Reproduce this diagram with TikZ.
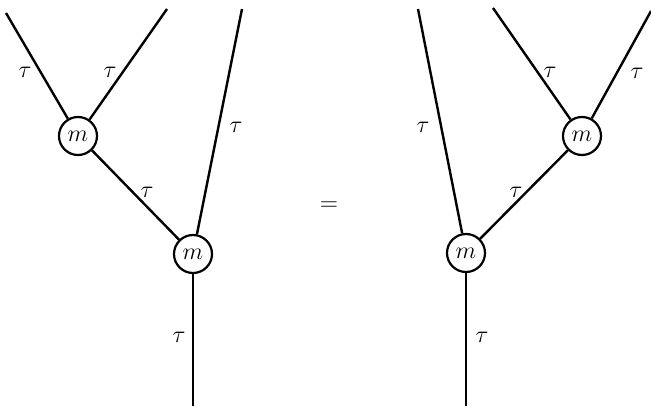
\documentclass[tikz,border=0pt]{standalone}
\usepackage{amsmath, amssymb}

\tikzset{
  mult/.style={draw, circle, line width=1.1pt, minimum size=19pt, inner sep=0pt, fill=white, font=\large},
  lbl/.style={font=\large, inner sep=0pt},
  leg/.style={line width=1.2pt}
}

\begin{document}
\begin{tikzpicture}[x=0.5pt, y=-0.5pt]
  \useasboundingbox (0,0) rectangle (651,406);
  % left side: (tau tau) tau
  \coordinate (a1) at (6,13);
  \coordinate (a2) at (167,9);
  \coordinate (a3) at (242,9);
  \coordinate (a4) at (193,406);
  \node[mult] (m1) at (78,136) {$m$};
  \node[mult] (m2) at (193,254) {$m$};
  \draw[leg] (a1) -- (m1);
  \draw[leg] (a2) -- (m1);
  \draw[leg] (m1) -- (m2);
  \draw[leg] (a3) -- (m2);
  \draw[leg] (m2) -- (a4);
  \node[lbl] (t1) at (25,72) {$\tau$};
  \node[lbl] (t2) at (110,72) {$\tau$};
  \node[lbl] (t3) at (236,127) {$\tau$};
  \node[lbl] (t4) at (147,192) {$\tau$};
  \node[lbl] (t5) at (179,337) {$\tau$};

  \node[font=\large] (eq) at (329,206) {$=$};

  % right side: tau (tau tau)
  \coordinate (b1) at (418,9);
  \coordinate (b2) at (493,8);
  \coordinate (b3) at (651,11);
  \coordinate (b4) at (466,406);
  \node[mult] (m3) at (466,253) {$m$};
  \node[mult] (m4) at (582,136) {$m$};
  \draw[leg] (b1) -- (m3);
  \draw[leg] (b2) -- (m4);
  \draw[leg] (b3) -- (m4);
  \draw[leg] (m4) -- (m3);
  \draw[leg] (m3) -- (b4);
  \node[lbl] (s1) at (423,127) {$\tau$};
  \node[lbl] (s2) at (550,72) {$\tau$};
  \node[lbl] (s3) at (637,73) {$\tau$};
  \node[lbl] (s4) at (516,192) {$\tau$};
  \node[lbl] (s5) at (482,337) {$\tau$};
\end{tikzpicture}
\end{document}
